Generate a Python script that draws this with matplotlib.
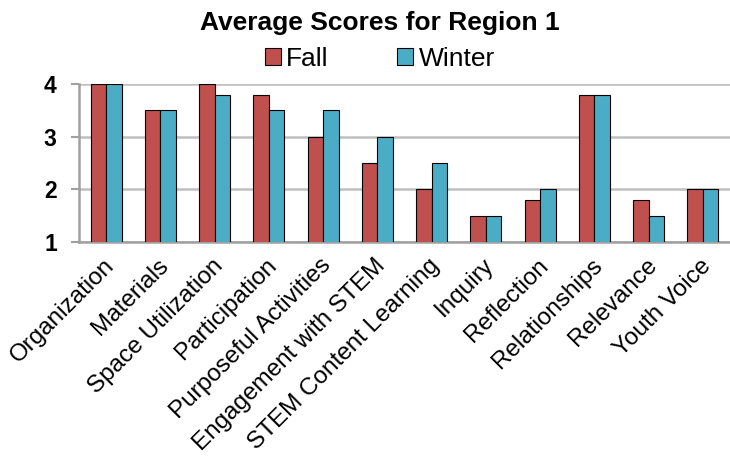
import numpy as np
import matplotlib
matplotlib.use("Agg")
import matplotlib.pyplot as plt
import matplotlib.transforms as mtransforms

plt.rcParams['font.family'] = ['Liberation Sans', 'DejaVu Sans']

# datos
categorias = ["Organization", "Materials", "Space Utilization", "Participation",
              "Purposeful Activities", "Engagement with STEM", "STEM Content Learning",
              "Inquiry", "Reflection", "Relationships", "Relevance", "Youth Voice"]
fall = [4.0, 3.5, 4.0, 3.8, 3.0, 2.5, 2.0, 1.5, 1.8, 3.8, 1.8, 2.0]
winter = [4.0, 3.5, 3.8, 3.5, 3.5, 3.0, 2.5, 1.5, 2.0, 3.8, 1.5, 2.0]
yticks = [1, 2, 3, 4]

rojo = "#C0504D"
azul = "#4BACC6"

fig = plt.figure(figsize=(7.3, 4.57), dpi=100)
ax = fig.add_axes([79/730, 1 - 242/457, 651/730, (242 - 84)/457])

x = np.arange(len(categorias))
w = 0.285
ax.bar(x - w/2, fall, w, bottom=0, color=rojo, edgecolor="black", linewidth=0.8, label="Fall", zorder=3)
ax.bar(x + w/2, winter, w, bottom=0, color=azul, edgecolor="black", linewidth=0.8, label="Winter", zorder=3)

ax.set_ylim(1, 4)
ax.set_xlim(-0.5, len(categorias) - 0.5)
ax.set_yticks(yticks)
ax.set_yticklabels([str(v) for v in yticks], fontsize=16.5, fontweight="bold")
ax.grid(axis="y", color="#BFBFBF", linewidth=1.8, zorder=0)

ax.set_xticks(x)
ax.set_xticklabels(categorias, rotation=45, ha="right", va="top",
                   rotation_mode="anchor", fontsize=17.5)
ax.tick_params(axis="x", length=0, pad=9)
ax.tick_params(axis="y", length=6, width=1.5, color="#A0A0A0", pad=10)
desplaza = mtransforms.ScaledTranslation(-3/100, 0, fig.dpi_scale_trans)
for lab in ax.get_xticklabels():
    lab.set_transform(lab.get_transform() + desplaza)

for s in ["top", "right"]:
    ax.spines[s].set_visible(False)
ax.spines["left"].set_color("#A0A0A0")
ax.spines["left"].set_linewidth(1.8)
ax.spines["bottom"].set_color("#A0A0A0")
ax.spines["bottom"].set_linewidth(1.8)

fig.text(380/730, 1 - 23/457, "Average Scores for Region 1", ha="center", va="center",
         fontsize=19, fontweight="bold")
fig.legend(loc="center", bbox_to_anchor=(380/730, 1 - 59/457), ncol=2, frameon=False,
           fontsize=19, handlelength=0.6, handleheight=0.6, handletextpad=0.2,
           columnspacing=2.6)

fig.savefig("out.png", dpi=100)
